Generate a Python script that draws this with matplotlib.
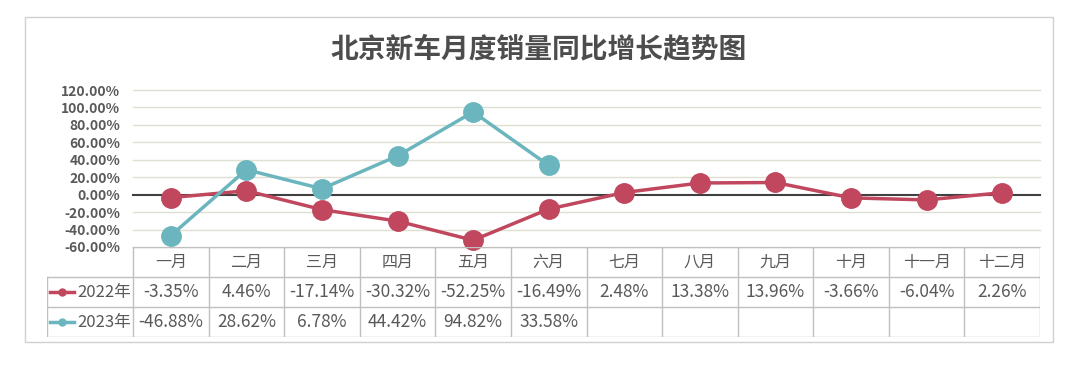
import matplotlib.pyplot as plt
from matplotlib.patches import Rectangle
from matplotlib.lines import Line2D

plt.rcParams['font.family'] = ['Noto Sans CJK SC', 'DejaVu Sans']

months = ['一月', '二月', '三月', '四月', '五月', '六月', '七月', '八月', '九月', '十月', '十一月', '十二月']
y2022 = [-3.35, 4.46, -17.14, -30.32, -52.25, -16.49, 2.48, 13.38, 13.96, -3.66, -6.04, 2.26]
y2023 = [-46.88, 28.62, 6.78, 44.42, 94.82, 33.58]
labels = ['2022年', '2023年']
yticks = [-60, -40, -20, 0, 20, 40, 60, 80, 100, 120]

c22 = '#C0475E'
c23 = '#6BB6BE'
txt = '#595959'
W, H = 1080, 368

fig = plt.figure(figsize=(10.8, 3.68), dpi=100)

# outer frame
fig.patches.append(Rectangle((25 / W, 1 - 342 / H), 1028 / W, 325 / H, transform=fig.transFigure,
                             fill=False, edgecolor='#D0D0D0', linewidth=1))

fig.text(539 / W, 1 - 50 / H, '北京新车月度销量同比增长趋势图', ha='center', va='center',
         fontsize=20, fontweight='bold', color='#4D4D4D')

# line chart
ax = fig.add_axes([133 / W, 1 - 247 / H, 907 / W, 157 / H])
x = list(range(len(months)))
for v in yticks:
    if v == 0:
        ax.axhline(0, color='#404040', linewidth=1.5, zorder=1)
    else:
        ax.axhline(v, color='#E0E0D2', linewidth=1, zorder=0)
ax.plot(x, y2022, color=c22, linewidth=2.5, marker='o', markersize=14,
        markerfacecolor=c22, markeredgecolor=c22, zorder=3)
ax.plot(x[:len(y2023)], y2023, color=c23, linewidth=2.5, marker='o', markersize=14,
        markerfacecolor=c23, markeredgecolor=c23, zorder=4)
ax.set_xlim(-0.5, 11.5)
ax.set_ylim(-60, 120)
ax.set_yticks(yticks)
ax.set_yticklabels(['%.2f%%' % v for v in yticks], fontsize=10, fontweight='bold', color=txt)
ax.tick_params(axis='y', length=0, pad=9)
ax.set_xticks([])
for s in ax.spines.values():
    s.set_visible(False)
for ln in ax.lines:
    ln.set_clip_on(False)

# data table
colw = 907 / 12
lab_w = 86 / colw
tx = fig.add_axes([47 / W, 1 - 337 / H, 993 / W, 90 / H])
tx.set_xlim(-lab_w, 12)
tx.set_ylim(3, 0)
tx.axis('off')
bc = '#BFBFBF'
tx.plot([0, 12], [0, 0], color=bc, lw=1)
for yy in [1, 2, 3]:
    tx.plot([-lab_w, 12], [yy, yy], color=bc, lw=1)
tx.plot([-lab_w, -lab_w], [1, 3], color=bc, lw=1)
for xx in range(13):
    tx.plot([xx, xx], [0, 3], color=bc, lw=1)

for i, m in enumerate(months):
    tx.text(i + 0.5, 0.5, m, ha='center', va='center', fontsize=11.5, color=txt)
rows = [y2022, y2023]
colors = [c22, c23]
for r, (vals, col, lab) in enumerate(zip(rows, colors, labels)):
    yy = r + 1.5
    for i, v in enumerate(vals):
        tx.text(i + 0.5, yy, '%.2f%%' % v, ha='center', va='center', fontsize=12.5, color=txt)
    tx.add_line(Line2D([-lab_w + 0.04, -lab_w + 0.36], [yy, yy], color=col, lw=2.5))
    tx.plot([-lab_w + 0.2], [yy], marker='o', markersize=5, color=col)
    tx.text(-0.03, yy, lab, ha='right', va='center', fontsize=12, color=txt)

fig.savefig('out.png', dpi=100)
